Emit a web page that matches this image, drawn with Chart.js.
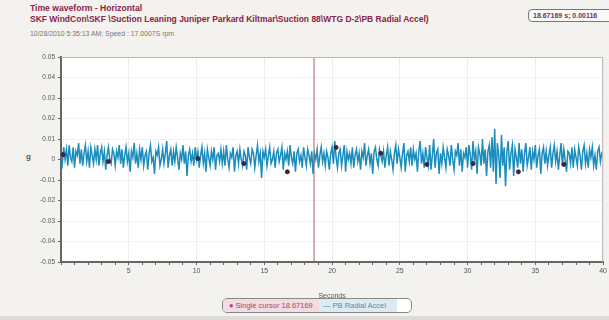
<!DOCTYPE html>
<html>
<head>
<meta charset="utf-8">
<script src="https://cdn.jsdelivr.net/npm/chart.js@4.4.1/dist/chart.umd.min.js"></script>
<style>
    body { margin: 0; background: #f3f2ee; font-family: "Liberation Sans", Arial, sans-serif; }
    #page { position: relative; width: 609px; height: 320px; overflow: hidden; background: #f3f2ee; }
    .hdr { position: absolute; left: 30px; white-space: nowrap; }
    #t1 { top: 3px; color: #8a2448; font-weight: bold; font-size: 8.6px; }
    #t2 { top: 14px; color: #8a2448; font-weight: bold; font-size: 8.5px; }
    #t3 { top: 30px; color: #777; font-size: 6.9px; }
    #cursorBox { position: absolute; left: 528px; top: 9px; width: 90px; height: 11px; border: 1px solid #777;
        border-radius: 4px; font-size: 7px; color: #5a3a66; font-weight: bold; line-height: 11px; padding-left: 4px; white-space: nowrap; background: #faf9f7; }
    #yUnit { position: absolute; left: 26px; top: 152px; font-size: 8px; color: #555; font-weight: bold; }
    #chartBox { position: absolute; left: 0; top: 48px; width: 609px; height: 252px; }
    #legend { position: absolute; left: 222px; top: 298px; width: 188px; height: 13px; border: 1px solid #888;
        border-radius: 5px; overflow: hidden; font-size: 7.5px; line-height: 13px; white-space: nowrap; background: #fff; }
    #legend span { display: inline-block; height: 13px; }
    #lg1 { background: #f2dbe2; color: #b04468; padding: 0 4px 0 6px; width: 86px; }
    #lg2 { background: #dcebf2; color: #4d8db0; padding: 0 4px; width: 70px; }
    #bottomStrip { position: absolute; left: 0; top: 316px; width: 609px; height: 4px; background: #dedcd6; }
</style>
</head>
<body>
<div id="page">
    <div class="hdr" id="t1">Time waveform - Horizontal</div>
    <div class="hdr" id="t2">SKF WindCon\SKF \Suction Leaning Juniper Parkard Kiltmar\Suction 88\WTG D-2\PB Radial Accel)</div>
    <div class="hdr" id="t3">10/28/2010 5:35:13 AM; Speed : 17.0007S rpm</div>
    <div id="cursorBox">18.67169 s; 0.00116</div>
    <div id="yUnit">g</div>
    <div id="chartBox"><canvas id="wave"></canvas></div>
    <div id="legend"><span id="lg1">&#9679; Single cursor 18.67169</span><span id="lg2">&mdash; PB Radial Accel</span></div>
    <div id="bottomStrip"></div>
</div>
<script>
// waveform samples in milli-g, one every 0.1 s from 0 to 40 s
const sampleStep = 0.1;
const waveMilliG = [
    3, -2, 6, 0, 5, -3, 7, 1, -1, 6, -4, 4, 2, 8, -2, 5, -3, 3, 7, -1,
    4, -4, 6, 2, -2, 5, 0, 7, -3, 3, 6, -1, 4, -5, 2, 6, 0, -2, 5, 3,
    -3, 4, 1, 7, -2, 5, -4, 2, 6, -1, 3, -6, 4, 1, 8, -2, 3, -4, 5, 0,
    6, -3, 2, 4, -5, 3, 7, -1, 1, -7, 4, 2, 6, -3, 0, 5, -2, 3, 9, -4,
    2, 5, -3, 4, -1, 6, 1, -5, 3, 0, 7, -2, 4, -8, 2, 5, -1, 3, -3, 6,
    0, 4, -4, 2, 6, -2, 3, -6, 5, 1, -3, 4, 0, 6, -5, 2, 3, -1, 5, -2,
    4, -3, 7, 0, -4, 3, 1, 6, -6, 2, 4, -2, 5, 0, -3, 4, 2, -5, 6, 1,
    -2, 5, 3, -4, 2, 7, -1, 3, -9, 4, 1, 5, -3, 2, 6, -2, 0, 4, -4, 3,
    5, -1, 2, 6, -5, 3, 0, 4, -3, 7, 1, -2, 4, -6, 3, 5, -1, 2, -4, 6,
    1, -3, 5, 2, -2, 4, -7, 3, 0, 5, -4, 2, 6, -1, 3, -3, 4, 1, -5, 3,
    6, -2, 9, 1, -4, 3, 5, -3, 2, 7, -6, 4, 0, 3, -2, 6, -4, 2, 5, -1,
    3, -5, 4, 1, 8, -3, 2, 5, -2, 3, -7, 4, 6, 0, -3, 5, 2, -1, 4, -4,
    2, 6, -3, 4, 0, -5, 3, 7, -2, 5, 1, -4, 3, 8, -6, 2, 4, -1, 6, -3,
    5, 0, 3, -6, 4, 9, -2, 3, -4, 6, 1, -3, 7, -5, 2, 10, -4, 3, 5, -7,
    3, -2, 6, 1, -4, 5, 2, -3, 7, 0, -5, 4, 2, 8, -3, 5, -6, 3, 1, 6,
    -4, 7, 2, -5, 9, 0, 4, -7, 6, 3, -3, 10, -2, 5, -8, 4, 7, -4, 11, -6,
    15, -12, 8, 2, -9, 12, -3, 6, -13, 4, 9, -5, 3, 7, -8, 5, 1, -4, 8, -2,
    5, -6, 3, 8, -3, 1, 6, -5, 4, 0, 7, -4, 2, 5, -7, 3, 6, -2, 4, -3,
    2, 6, -4, 3, 7, -1, 4, -5, 2, 8, -3, 5, 0, -6, 4, 3, -2, 6, -4, 5,
    1, -3, 6, 2, -5, 4, 7, -2, 3, -4, 5, 1, 6, -3, 2, -5, 4, 6, -1, 3, 2
];

// dark marker dots sitting on the waveform
const markerTimes = [0.15, 3.5, 10.1, 13.5, 16.7, 20.3, 23.6, 27.0, 30.4, 33.75, 37.1];
const markerValues = [0.0024, -0.001, 0.0005, -0.002, -0.006, 0.0059, 0.003, -0.0024, -0.002, -0.006, -0.0024];

const cursorTime = 18.67;
const yMin = -0.05, yMax = 0.05;
const xMin = 0, xMax = 40;

const wavePoints = waveMilliG.map((v, i) => ({ x: i * sampleStep, y: v / 1000 }));
const markerPoints = markerTimes.map((t, i) => ({ x: t, y: markerValues[i] }));

// white plot area + thin frame
const plotFrame = {
    id: 'plotFrame',
    beforeDraw(chart) {
        const { ctx, chartArea: a } = chart;
        ctx.save();
        ctx.fillStyle = '#ffffff';
        ctx.fillRect(a.left, a.top, a.right - a.left, a.bottom - a.top);
        ctx.restore();
    },
    afterDraw(chart) {
        const { ctx, chartArea: a } = chart;
        ctx.save();
        ctx.strokeStyle = '#b8b8b8';
        ctx.lineWidth = 1;
        ctx.beginPath();
        ctx.moveTo(a.left, a.top + 0.5);
        ctx.lineTo(a.right - 0.5, a.top + 0.5);
        ctx.lineTo(a.right - 0.5, a.bottom);
        ctx.stroke();
        ctx.restore();
    }
};

new Chart(document.getElementById('wave'), {
    type: 'scatter',
    data: {
        datasets: [
            {
                label: 'Single cursor',
                data: [{ x: cursorTime, y: yMin }, { x: cursorTime, y: yMax }],
                showLine: true,
                borderColor: '#a8606e',
                borderWidth: 1,
                pointRadius: 0
            },
            {
                label: 'Markers',
                data: markerPoints,
                showLine: false,
                backgroundColor: '#4a1f3c',
                borderColor: '#4a1f3c',
                pointRadius: 2
            },
            {
                label: 'PB Radial Accel',
                data: wavePoints,
                showLine: true,
                borderColor: '#1a8dbd',
                borderWidth: 1.5,
                pointRadius: 0,
                tension: 0
            }
        ]
    },
    options: {
        responsive: true,
        maintainAspectRatio: false,
        animation: false,
        layout: { padding: { top: 9, right: 4, left: 0, bottom: 0 } },
        plugins: {
            legend: { display: false },
            tooltip: { enabled: false }
        },
        scales: {
            x: {
                type: 'linear',
                min: xMin,
                max: xMax,
                afterFit: (s) => { s.height = 38; },
                ticks: {
                    stepSize: 1,
                    autoSkip: false,
                    maxRotation: 0,
                    color: '#555',
                    font: { size: 7, family: 'Liberation Sans' },
                    padding: 2,
                    callback: (v) => (v % 5 === 0 && v !== 0 ? v : '')
                },
                grid: {
                    color: (c) => (c.tick && c.tick.value % 5 === 0 ? '#ececec' : 'rgba(0,0,0,0)'),
                    tickColor: '#666',
                    tickLength: 3
                },
                border: { color: '#666', width: 2 },
                title: {
                    display: true,
                    text: 'Seconds',
                    color: '#555',
                    font: { size: 7, family: 'Liberation Sans' },
                    padding: { top: 0, bottom: 0 }
                }
            },
            y: {
                min: yMin,
                max: yMax,
                afterFit: (s) => { s.width = 61; },
                ticks: {
                    stepSize: 0.01,
                    color: '#555',
                    font: { size: 6.5, family: 'Liberation Sans' },
                    padding: 3
                },
                grid: {
                    color: '#f1f1f1',
                    tickColor: '#666',
                    tickLength: 3
                },
                border: { color: '#666', width: 2 }
            }
        }
    },
    plugins: [plotFrame]
});
</script>
</body>
</html>
